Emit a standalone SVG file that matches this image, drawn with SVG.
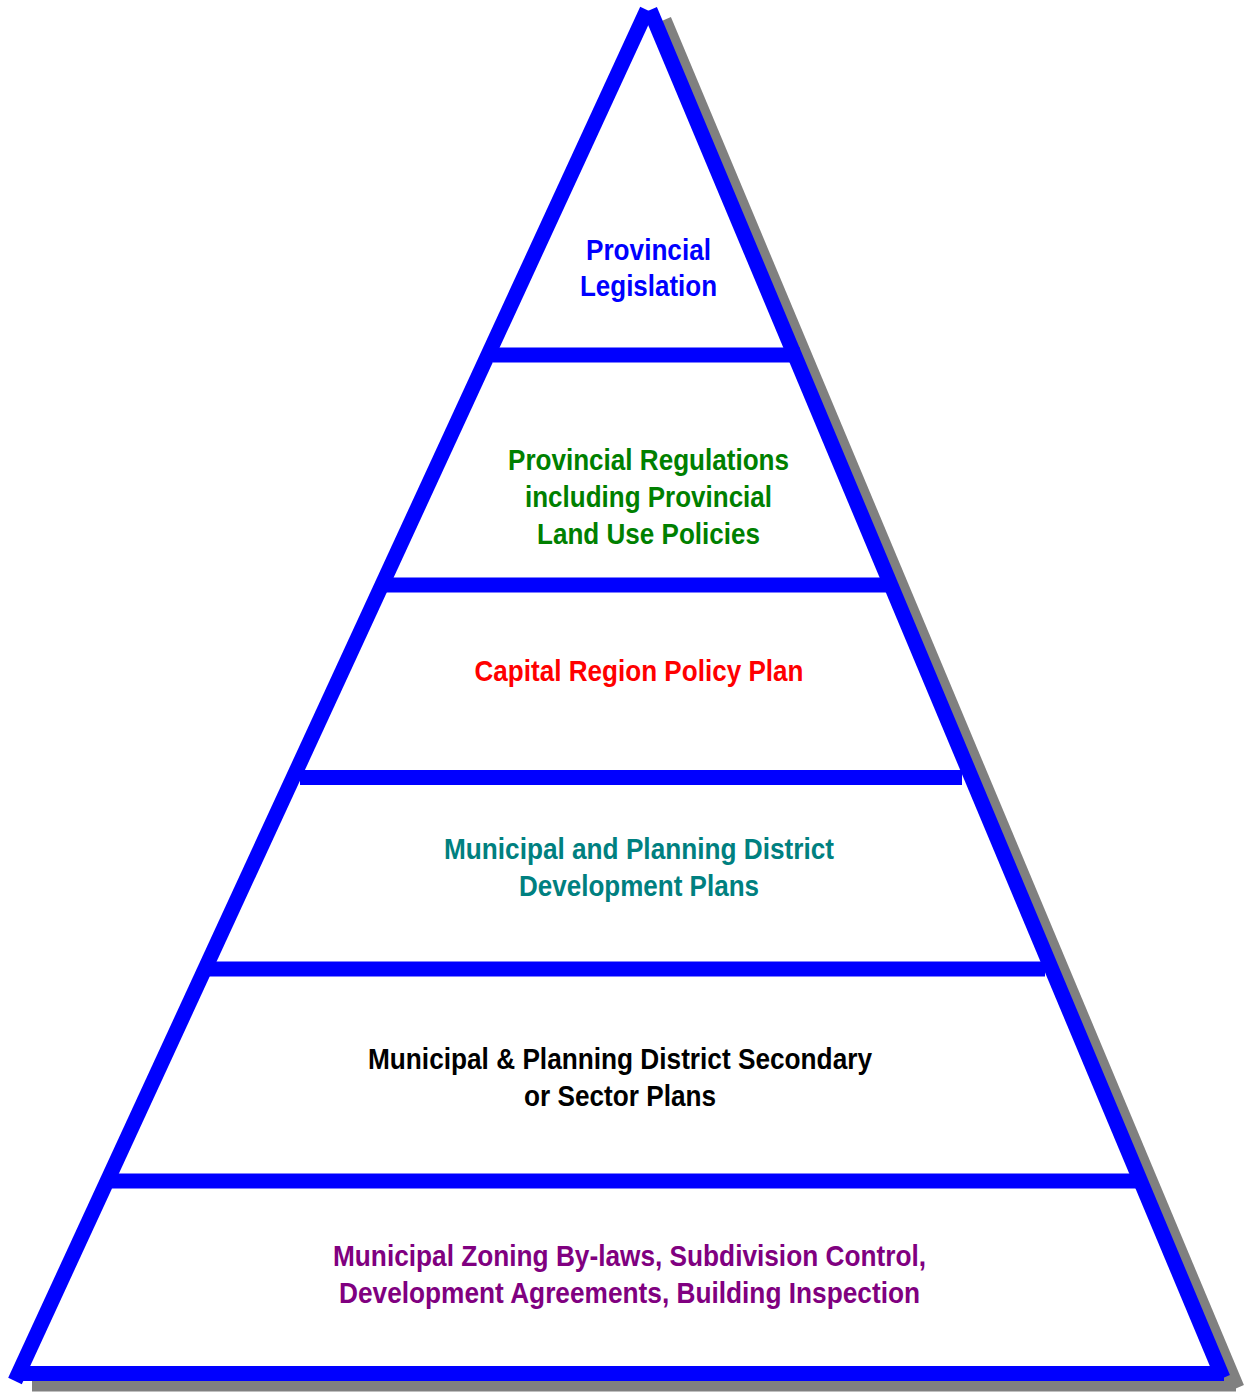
<svg xmlns="http://www.w3.org/2000/svg" width="1247" height="1393" viewBox="0 0 1247 1393">
<style>
.edge{stroke:#0000FF;stroke-width:15;stroke-linecap:butt;fill:none}
.shadow{stroke:#808080;stroke-width:15;stroke-linecap:butt;fill:none}
text{font-family:"Liberation Sans Narrow","Liberation Sans",Arial,sans-serif;font-weight:bold;font-size:30px;text-anchor:middle}
.t1{fill:#0000FF}.t2{fill:#008000}.t3{fill:#FF0000}.t4{fill:#008080}.t5{fill:#000000}.t6{fill:#800080}
</style>
<rect width="1247" height="1393" fill="#FFFFFF"/>
<g id="connectors">
  <g id="shadow">
    <line class="shadow" x1="664" y1="20" x2="1237" y2="1388"/>
    <line class="shadow" x1="32" y1="1384" x2="1236" y2="1384"/>
  </g>
  <line class="edge" x1="647" y1="10" x2="15" y2="1381"/>
  <line class="edge" x1="650" y1="10" x2="1223" y2="1378"/>
  <line class="edge" x1="493" y1="355" x2="800" y2="355"/>
  <line class="edge" x1="385" y1="585" x2="895" y2="585"/>
  <line class="edge" x1="300" y1="777.5" x2="962" y2="777.5"/>
  <line class="edge" x1="207" y1="969" x2="1045" y2="969"/>
  <line class="edge" x1="112" y1="1181" x2="1142" y2="1181"/>
  <line class="edge" x1="20" y1="1373.5" x2="1224" y2="1373.5"/>
</g>
<g id="level1">
  <text class="t1" x="648.5" y="260" textLength="125" lengthAdjust="spacingAndGlyphs">Provincial</text>
  <text class="t1" x="648.5" y="296" textLength="137" lengthAdjust="spacingAndGlyphs">Legislation</text>
</g>
<g id="level2">
  <text class="t2" x="648.5" y="470" textLength="281" lengthAdjust="spacingAndGlyphs">Provincial Regulations</text>
  <text class="t2" x="648.5" y="507" textLength="247" lengthAdjust="spacingAndGlyphs">including Provincial</text>
  <text class="t2" x="648.5" y="544" textLength="223" lengthAdjust="spacingAndGlyphs">Land Use Policies</text>
</g>
<g id="level3">
  <text class="t3" x="639" y="681" textLength="329" lengthAdjust="spacingAndGlyphs">Capital Region Policy Plan</text>
</g>
<g id="level4">
  <text class="t4" x="639" y="859" textLength="390" lengthAdjust="spacingAndGlyphs">Municipal and Planning District</text>
  <text class="t4" x="639" y="896" textLength="240" lengthAdjust="spacingAndGlyphs">Development Plans</text>
</g>
<g id="level5">
  <text class="t5" x="620" y="1069" textLength="504" lengthAdjust="spacingAndGlyphs">Municipal &amp; Planning District Secondary</text>
  <text class="t5" x="620" y="1106" textLength="192" lengthAdjust="spacingAndGlyphs">or Sector Plans</text>
</g>
<g id="level6">
  <text class="t6" x="629.5" y="1266" textLength="593" lengthAdjust="spacingAndGlyphs">Municipal Zoning By-laws, Subdivision Control,</text>
  <text class="t6" x="629.5" y="1303" textLength="581" lengthAdjust="spacingAndGlyphs">Development Agreements, Building Inspection</text>
</g>
</svg>
